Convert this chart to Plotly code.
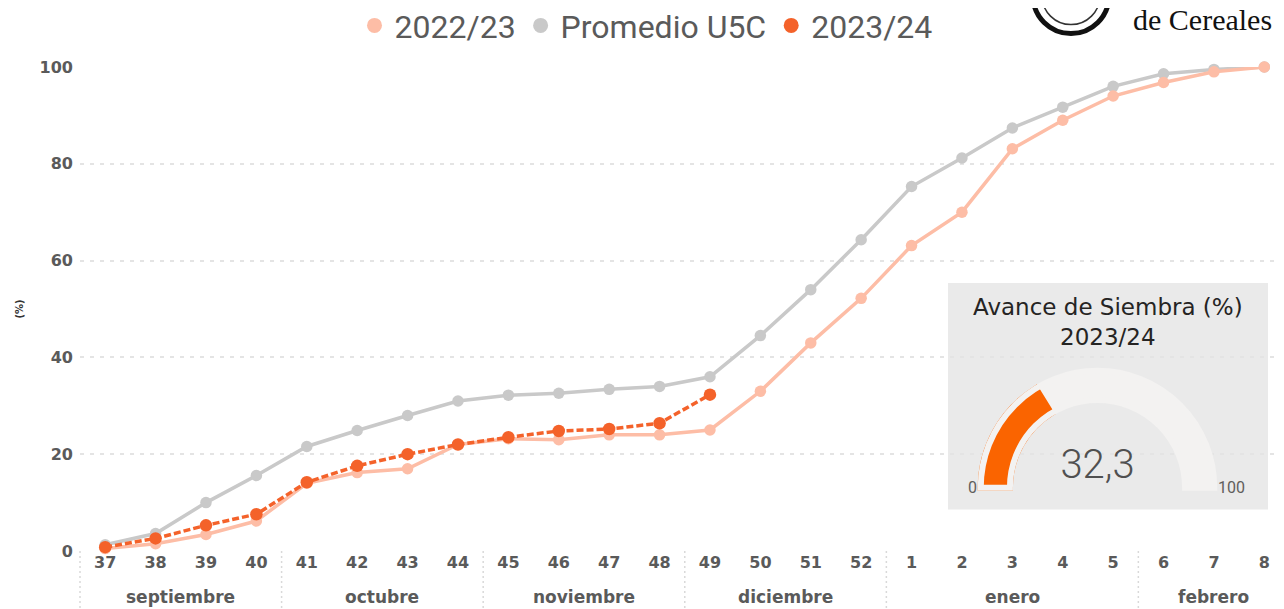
import plotly.graph_objects as go

# ---------------- data ----------------
weeks = ["37", "38", "39", "40", "41", "42", "43", "44", "45", "46", "47", "48",
         "49", "50", "51", "52", "1", "2", "3", "4", "5", "6", "7", "8"]
months = (["septiembre"] * 4 + ["octubre"] * 4 + ["noviembre"] * 4 +
          ["diciembre"] * 4 + ["enero"] * 5 + ["febrero"] * 3)

promedio_u5c = [1.3, 3.6, 10.0, 15.6, 21.6, 24.9, 28.0, 31.0, 32.2, 32.6, 33.4, 34.0,
                36.0, 44.5, 54.0, 64.3, 75.3, 81.2, 87.4, 91.7, 96.0, 98.6, 99.5, 100.0]
camp_2022_23 = [0.5, 1.5, 3.4, 6.2, 14.0, 16.2, 17.0, 22.0, 23.2, 23.0, 24.0, 24.0,
                25.0, 33.0, 43.0, 52.2, 63.1, 70.0, 83.1, 89.0, 94.0, 96.8, 99.0, 100.0]
camp_2023_24 = [0.8, 2.6, 5.3, 7.6, 14.2, 17.6, 20.0, 22.0, 23.5, 24.8, 25.2, 26.4, 32.3]

avance_actual = 32.3
series_names = ["2022/23", "Promedio U5C", "2023/24"]
y_ticks = [0, 20, 40, 60, 80, 100]

# ---------------- style ----------------
C_2223 = "#FDBDA6"
C_PROM = "#C9C9C9"
C_2324 = "#F4622A"
C_GAUGE = "#FA6400"
TXT = "#5A5A5A"

# the page body has an 8px margin, so the figure is offset by 8px in the window
OFF = 8
W, H = 1284 - OFF, 609 - OFF
ML, MR, MT, MB = 80 - OFF, 0, 66.5 - OFF, 57.5
PW, PH = W - ML - MR, H - MT - MB


def px_x(p):  # window pixel -> paper fraction
    return (p - OFF - ML) / PW


def px_y(p):
    return (H - MB - (p - OFF)) / PH


fig = go.Figure()

n = len(weeks)
n24 = len(camp_2023_24)

fig.add_trace(go.Scatter(x=weeks, y=promedio_u5c, name=series_names[1], mode="lines+markers",
                         line=dict(color=C_PROM, width=3.5), marker=dict(size=11.5, color=C_PROM),
                         showlegend=False, cliponaxis=False))
fig.add_trace(go.Scatter(x=weeks, y=camp_2022_23, name=series_names[0], mode="lines+markers",
                         line=dict(color=C_2223, width=3.5), marker=dict(size=11.5, color=C_2223),
                         showlegend=False, cliponaxis=False))
fig.add_trace(go.Scatter(x=weeks[:n24], y=camp_2023_24, name=series_names[2], mode="lines+markers",
                         line=dict(color=C_2324, width=3.5, dash="7px,3px"),
                         marker=dict(size=12.5, color=C_2324),
                         showlegend=False, cliponaxis=False))

# legend entries (circles only)
for nm, col in zip(series_names, [C_2223, C_PROM, C_2324]):
    fig.add_trace(go.Scatter(x=[None], y=[None], name=nm, mode="markers",
                             marker=dict(size=15, color=col), showlegend=True))

# gauge
R = 117
cx, base = 1097.5, 488
fig.add_trace(go.Indicator(
    mode="gauge+number",
    value=avance_actual,
    number=dict(font=dict(family="Roboto", size=40, color="#505050", weight=300),
                valueformat=".1f"),
    domain=dict(x=[px_x(cx - R), px_x(cx + R)], y=[px_y(base), px_y(base - R)]),
    gauge=dict(
        shape="angular",
        axis=dict(range=[0, 100], tickvals=[0, 100], ticks="", ticklen=0,
                  tickfont=dict(family="Roboto", size=16, color="#605E5C")),
        bar=dict(color=C_GAUGE, thickness=1, line=dict(color=C_GAUGE, width=6)),
        bgcolor="#F3F2F1",
        bordercolor="#F3F2F1",
        borderwidth=6,
    ),
))

# month groups: separators and labels
r0, r1 = -0.5, 23.39
groups = []
for i, m in enumerate(months):
    if not groups or groups[-1][0] != m:
        groups.append([m, i, i])
    else:
        groups[-1][2] = i

shapes = []
annotations = []
for m, i0, i1 in groups:
    xp = (i0 - 0.5 - r0) / (r1 - r0)
    shapes.append(dict(type="line", xref="paper", yref="paper", x0=xp, x1=xp,
                       y0=0, y1=px_y(609), line=dict(color="#D9D9D9", width=1.5, dash="2px,3px")))
    annotations.append(dict(text=m, xref="x", yref="paper", x=(i0 + i1) / 2, y=px_y(598),
                            xanchor="center", yanchor="middle", showarrow=False,
                            font=dict(family="DejaVu Sans", size=17, color=TXT, weight="bold")))

# gauge panel background
shapes.append(dict(type="rect", xref="paper", yref="paper", layer="below",
                   x0=px_x(948), x1=px_x(1268), y0=px_y(510), y1=px_y(283),
                   fillcolor="#EAEAEA", line=dict(width=0)))
# seal logo (partially visible)
shapes.append(dict(type="circle", xref="paper", yref="paper",
                   x0=px_x(1033), x1=px_x(1109), y0=px_y(33), y1=px_y(-43),
                   line=dict(color="#111111", width=5)))
shapes.append(dict(type="circle", xref="paper", yref="paper",
                   x0=px_x(1042), x1=px_x(1100), y0=px_y(24), y1=px_y(-34),
                   line=dict(color="#333333", width=1.5)))

annotations += [
    dict(text="Avance de Siembra (%)<br>2023/24", xref="paper", yref="paper",
         x=px_x(1108), y=px_y(322), xanchor="center", yanchor="middle", showarrow=False,
         font=dict(family="DejaVu Sans", size=23, color="#252423")),
    dict(text="de Cereales", xref="paper", yref="paper", x=px_x(1274), y=px_y(37),
         xanchor="right", yanchor="bottom", showarrow=False,
         font=dict(family="Liberation Serif", size=30, color="#111111")),
]

fig.update_layout(
    width=W, height=H,
    margin=dict(l=ML, r=MR, t=MT, b=MB, pad=0, autoexpand=False),
    paper_bgcolor="white", plot_bgcolor="white",
    separators=",.",
    showlegend=True,
    legend=dict(orientation="h", x=px_x(646), y=px_y(25), xanchor="center", yanchor="middle",
                font=dict(family="Roboto", size=32, color="#5A5A5A"),
                itemwidth=30, bgcolor="rgba(0,0,0,0)", tracegroupgap=0),
    xaxis=dict(type="category", range=[r0, r1], showgrid=False, zeroline=False,
               showline=False, ticks="", automargin=False,
               tickfont=dict(family="DejaVu Sans", size=16, color=TXT, weight="bold")),
    yaxis=dict(range=[0, 100], tickvals=y_ticks, showgrid=True, gridcolor="#E4E4E4",
               griddash="4px,6px", gridwidth=2, zeroline=False, showline=False, ticks="",
               ticklabelstandoff=6, automargin=False,
               tickfont=dict(family="DejaVu Sans", size=16, color=TXT, weight="bold"),
               title=dict(text="(%)", standoff=14,
                          font=dict(family="DejaVu Sans", size=10, color="#333333", weight="bold"))),
    shapes=shapes,
    annotations=annotations,
)

fig.write_html("out.html")
